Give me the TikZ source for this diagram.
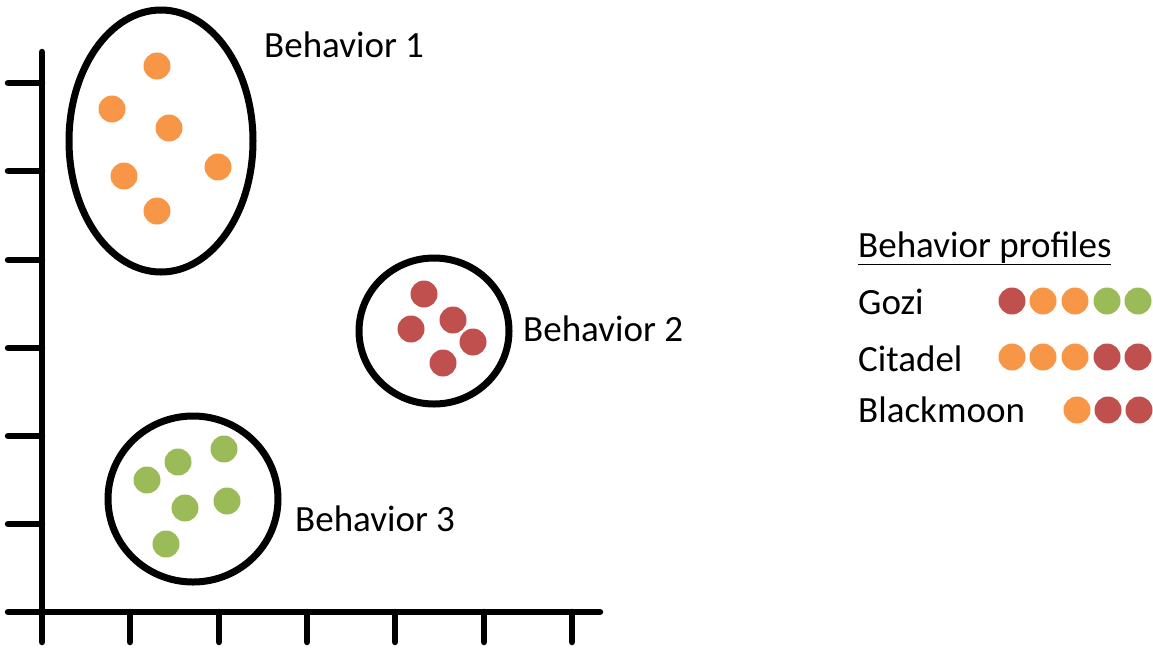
\documentclass[tikz,border=0pt]{standalone}
\usepackage{fontspec}
\setmainfont{Carlito}
\definecolor{dotorange}{HTML}{F79646}
\definecolor{dotred}{HTML}{C0504D}
\definecolor{dotgreen}{HTML}{9BBB59}
\tikzset{
  dot/.style={circle, inner sep=0pt, minimum size=27pt},
  orangedot/.style={dot, fill=dotorange},
  reddot/.style={dot, fill=dotred},
  greendot/.style={dot, fill=dotgreen},
  cluster/.style={line width=7pt},
  label text/.style={anchor=base west, inner sep=0pt, font=\fontsize{37}{41}\selectfont},
}
\begin{document}
\begin{tikzpicture}[x=1pt, y=-1pt]
    \useasboundingbox (0,0) rectangle (1153,649);
    \begin{scope}[line width=6.5pt, line cap=round]
    % Axes:
    \draw (42,52) -- (42,612);
    \draw (8,612) -- (600,612);
    % ticks on both axes
    \foreach \y in {83,171,260,348,436,524}{%
        \draw (8,\y) -- (42,\y);
    }
    \foreach \x in {42,130,219,307,395,484,572}{%
        \draw (\x,612) -- (\x,642);
    }
    \end{scope}

    % cluster outlines
    \draw [cluster] (161,141) ellipse (92pt and 131pt);
    \draw [cluster] (434,331) ellipse (75pt and 73pt);
    \draw [cluster] (193,499) ellipse (85pt and 83pt);

    % Behavior 1 (orange)
    \foreach \n/\x/\y in {a/157/66, b/112/109, c/169/128, d/124/176, e/218/167, f/157/211}{%
        \node [orangedot] (one\n) at (\x,\y) {};
    }
    % Behavior 2 (red)
    \foreach \n/\x/\y in {a/424/294, b/411/329, c/453/320, d/473/342, e/443/363}{%
        \node [reddot] (two\n) at (\x,\y) {};
    }
    % Behavior 3 (green)
    \foreach \n/\x/\y in {a/224/449, b/178/462, c/147/480, d/185/508, e/227/501, f/166/544}{%
        \node [greendot] (three\n) at (\x,\y) {};
    }

    % cluster labels
    \node [label text] (B1) at (264,57)  {Behavior 1};
    \node [label text] (B2) at (523,341) {Behavior 2};
    \node [label text] (B3) at (295,531) {Behavior 3};

    % legend
    \node [label text] (prof) at (858,257) {\underline{Behavior profiles}};
    \node [label text] (gozi) at (858,314) {Gozi};
    \node [label text] (cita) at (858,371) {Citadel};
    \node [label text] (blac) at (858,422) {Blackmoon};
    \foreach \n/\x/\c in {a/1012/reddot, b/1043/orangedot, c/1075/orangedot, d/1107/greendot, e/1138/greendot}{%
        \node [\c] (gozi\n) at (\x,301) {};
    }
    \foreach \n/\x/\c in {a/1012/orangedot, b/1043/orangedot, c/1075/orangedot, d/1107/reddot, e/1138/reddot}{%
        \node [\c] (cita\n) at (\x,357) {};
    }
    \foreach \n/\x/\c in {a/1077/orangedot, b/1108/reddot, c/1139/reddot}{%
        \node [\c] (blac\n) at (\x,410) {};
    }
\end{tikzpicture}
\end{document}
